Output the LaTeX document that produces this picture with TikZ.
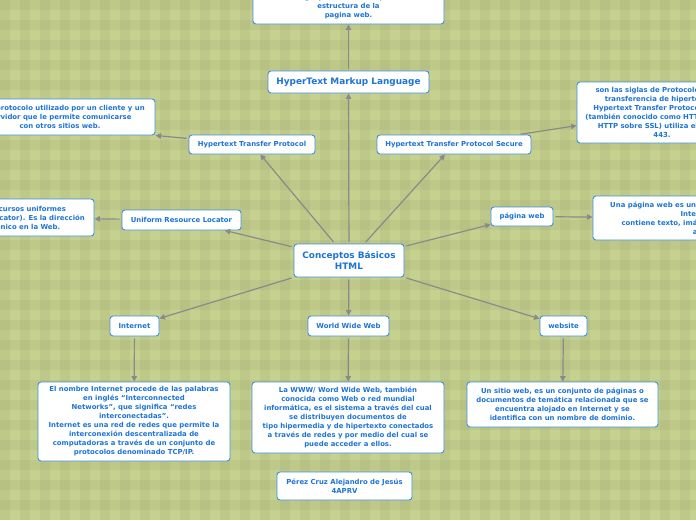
\documentclass[tikz,border=0pt]{standalone}
\usepackage{fontspec}
\setmainfont{DejaVu Sans}
\usetikzlibrary{arrows.meta}
\definecolor{bgc}{RGB}{197,209,143}
\definecolor{txtc}{RGB}{28,116,214}
\definecolor{bordc}{RGB}{62,142,222}
\definecolor{linec}{RGB}{138,138,138}
\tikzset{
  box/.style={draw=bordc, line width=0.9pt, fill=white, rounded corners=3pt,
    text=txtc, font=\bfseries\fontsize{6.9}{9}\selectfont, align=center, inner sep=0pt},
  bigbox/.style={box, font=\bfseries\fontsize{8.9}{11}\selectfont},
  conn/.style={draw=linec, line width=1.2pt, -{Triangle[length=5.5pt,width=5.5pt]}, shorten <=2pt}
}
\begin{document}
\begin{tikzpicture}[x=1pt,y=-1pt]
\useasboundingbox (0,0) rectangle (696,520);
\clip (0,0) rectangle (696,520);
\fill[bgc] (0,0) rectangle (696,520);
\foreach \i in {0,20,...,680} {\fill[black,opacity=0.035] (\i,0) rectangle (\i+10,520);}
\foreach \j in {0,20,...,510} {\fill[black,opacity=0.035] (0,\j) rectangle (696,\j+10);}

\node[box, minimum width=191pt, minimum height=34pt] (top) at (348.5,7) {Es un lenguaje de marcado que define la\\estructura de la\\pagina web.};
\node[bigbox, minimum width=161pt, minimum height=22pt] (html) at (348.5,82) {HyperText Markup Language};
\node[box, minimum width=190pt, minimum height=36pt] (lt) at (60,117) {Es el protocolo utilizado por un cliente y un\\servidor que le permite comunicarse\\con otros sitios web.};
\node[box, minimum width=126pt, minimum height=19pt] (http) at (252,144.5) {Hypertext Transfer Protocol};
\node[box, minimum width=154pt, minimum height=19pt] (https) at (454,144.5) {Hypertext Transfer Protocol Secure};
\node[box, minimum width=170pt, minimum height=61pt] (rt) at (662,112.5) {son las siglas de Protocolo seguro\\transferencia de hipertexto o\\Hypertext Transfer Protocol Secure\\(también conocido como HTTPS o HTTP\\HTTP sobre SSL) utiliza el puerto\\443.};
\node[box, minimum width=119pt, minimum height=20pt] (url) at (181.5,220) {Uniform Resource Locator};
\node[box, minimum width=188pt, minimum height=37pt] (lm) at (0,217.5) {localizador de recursos uniformes\\(Uniform Resource Locator). Es la dirección\\de un recurso único en la Web.};
\node[box, minimum width=62pt, minimum height=19pt] (pw) at (522,216.5) {página web};
\node[box, minimum width=224pt, minimum height=44pt] (rm) at (705,218) {Una página web es un documento electrónico en\\Internet que\\contiene texto, imágenes, enlaces, video y\\audio.};
\node[bigbox, minimum width=110pt, minimum height=33pt] (c) at (349,260.5) {Conceptos Básicos\\HTML};
\node[box, minimum width=49pt, minimum height=20pt] (inet) at (134.5,326) {Internet};
\node[box, minimum width=81pt, minimum height=20pt] (www) at (348.5,326) {World Wide Web};
\node[box, minimum width=47pt, minimum height=20pt] (ws) at (563.5,326) {website};
\node[box, minimum width=192pt, minimum height=79pt] (idesc) at (134,421.5) {El nombre Internet procede de las palabras\\en inglés “Interconnected\\Networks”, que significa “redes\\interconectadas”.\\Internet es una red de redes que permite la\\interconexión descentralizada de\\computadoras a través de un conjunto de\\protocolos denominado TCP/IP.};
\node[box, minimum width=192pt, minimum height=71pt] (wdesc) at (348,417.5) {La WWW/ Word Wide Web, también\\conocida como Web o red mundial\\informática, es el sistema a través del cual\\se distribuyen documentos de\\tipo hipermedia y de hipertexto conectados\\a través de redes y por medio del cual se\\puede acceder a ellos.};
\node[box, minimum width=191pt, minimum height=45pt] (sdesc) at (562.5,404.5) {Un sitio web, es un conjunto de páginas o\\documentos de temática relacionada que se\\encuentra alojado en Internet y se\\identifica con un nombre de dominio.};
\node[box, minimum width=135pt, minimum height=28pt] (auth) at (344.5,486) {Pérez Cruz Alejandro de Jesús\\4APRV};

\draw[conn] (c) -- (html);
\draw[conn] (html) -- (top);
\draw[conn] (c) -- (http);
\draw[conn] (c) -- (https);
\draw[conn] (c) -- (url);
\draw[conn] (c) -- (pw);
\draw[conn] (http) -- (lt.south east);
\draw[conn] (https) -- (rt);
\draw[conn] (url) -- (lm);
\draw[conn] (pw) -- (rm);
\draw[conn] (c) -- (inet);
\draw[conn] (c) -- (www);
\draw[conn] (c) -- (ws);
\draw[conn] (inet) -- (idesc);
\draw[conn] (www) -- (wdesc);
\draw[conn] (ws) -- (sdesc);
\end{tikzpicture}
\end{document}
